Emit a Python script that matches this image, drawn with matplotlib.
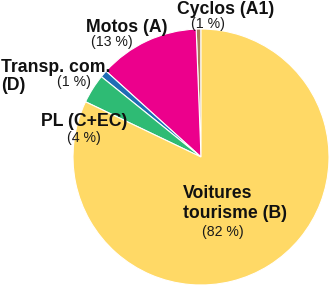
#!/usr/bin/env python3
"""Pie chart: share by licence category (Voitures, PL, Transp. com., Motos, Cyclos)."""
import matplotlib
matplotlib.use("Agg")
import matplotlib.pyplot as plt

# counter-clockwise from the top
categories = ["Cyclos (A1)", "Motos (A)", "Transp. com.\n(D)", "PL (C+EC)", "Voitures\ntourisme (B)"]
shares = [0.6, 12.7, 0.9, 3.7, 82.1]
pct_labels = ["(1 %)", "(13 %)", "(1 %)", "(4 %)", "(82 %)"]
colors = ["#a77b5a", "#ec008c", "#1f6db5", "#2ebb74", "#ffd966"]


def main():
    plt.rcParams["font.family"] = ["Liberation Sans", "DejaVu Sans"]
    fig = plt.figure(figsize=(3.3, 2.9), dpi=100)
    W, H = 330, 290
    cx, cy, r = 201, 157, 128
    ax = fig.add_axes([(cx - r) / W, (H - cy - r) / H, 2 * r / W, 2 * r / H])
    ax.pie(shares, colors=colors, startangle=90, counterclock=True,
           wedgeprops=dict(edgecolor="white", linewidth=0.8))
    ax.set_xlim(-1, 1)
    ax.set_ylim(-1, 1)
    ax.set_aspect("equal")
    ax.axis("off")

    def px(x, y):
        return x / W, 1 - y / H

    # (first line x, first line y, ha, pct x, pct y)
    pos = [
        (226, 9, "center", 208, 24),
        (127, 27, "center", 112, 42),
        (1, 67, "left", 74, 82),
        (84, 122, "center", 84, 138),
        (183, 194, "left", 223, 232),
    ]
    line_step = 19
    for name, pct, (nx, ny, ha, qx, qy) in zip(categories, pct_labels, pos):
        # one text per line so the short lines keep small boxes
        for i, line in enumerate(name.split("\n")):
            fig.text(*px(nx, ny + i * line_step), line, ha=ha, va="center",
                     fontsize=12.7, fontweight="bold", color="#111111")
        fig.text(*px(qx, qy), pct, ha="center", va="center", fontsize=10.2,
                 color="#1a1a1a")

    fig.savefig("out.png", dpi=100)
    return 0


if __name__ == "__main__":
    raise SystemExit(main())
